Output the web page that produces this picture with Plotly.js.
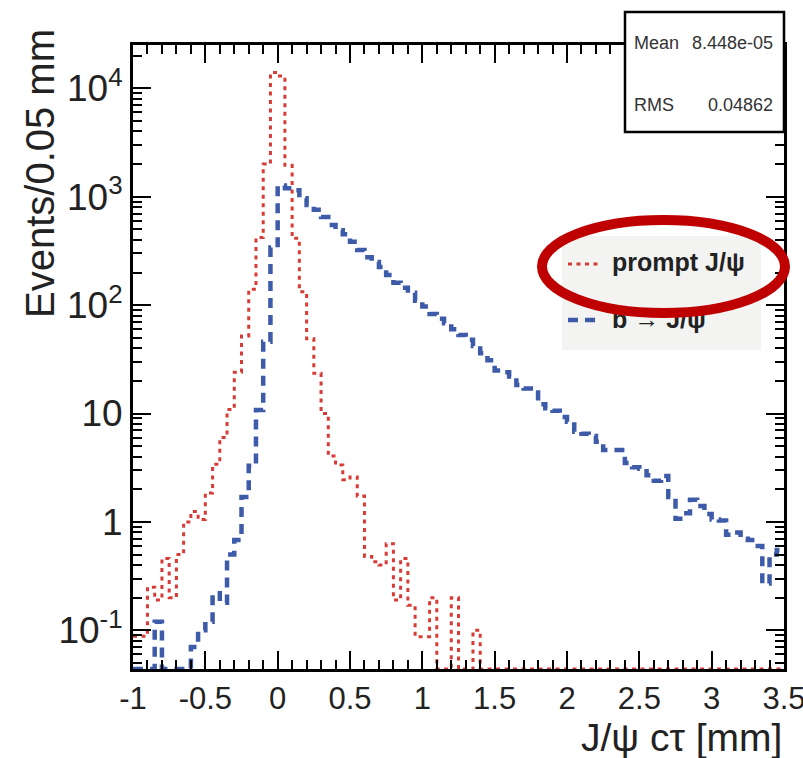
<!DOCTYPE html>
<html><head><meta charset="utf-8">
<script src="https://cdn.plot.ly/plotly-3.0.1.min.js"></script>
<style>html,body{margin:0;padding:0;background:#fff}#chart{width:803px;height:758px}</style>
</head><body><div id="chart"></div>
<script>
// ---- data ----
const binLow = [-1.00,-0.95,-0.90,-0.85,-0.80,-0.75,-0.70,-0.65,-0.60,-0.55,
  -0.50,-0.45,-0.40,-0.35,-0.30,-0.25,-0.20,-0.15,-0.10,-0.05,
  0.00,0.05,0.10,0.15,0.20,0.25,0.30,0.35,0.40,0.45,
  0.50,0.55,0.60,0.65,0.70,0.75,0.80,0.85,0.90,0.95,
  1.00,1.05,1.10,1.15,1.20,1.25,1.30,1.35,1.40,1.45,
  1.50,1.55,1.60,1.65,1.70,1.75,1.80,1.85,1.90,1.95,
  2.00,2.05,2.10,2.15,2.20,2.25,2.30,2.35,2.40,2.45,
  2.50,2.55,2.60,2.65,2.70,2.75,2.80,2.85,2.90,2.95,
  3.00,3.05,3.10,3.15,3.20,3.25,3.30,3.35,3.40,3.45];
const binWidth = 0.05;
const promptJpsi = [0.088,0.088,0.25,0.19,0.46,0.2,0.5,1.0,1.25,1.05,
  1.85,3.4,6.0,10.9,24,52,140,420,2000,14000,
  13000,1950,413,133,49,23.5,10,4.05,3.35,2.45,
  2.6,1.73,0.48,0.43,0.4,0.63,0.19,0.46,0.17,0.087,
  0.087,0.2,0,0,0.2,0,0,0.1,0,0,
  0,0,0,0,0,0,0,0,0,0,
  0,0,0,0,0,0,0,0,0,0,
  0,0,0,0,0,0,0,0,0,0,
  0,0,0,0,0,0,0,0,0,0];
const bToJpsi = [0,0,0,0.12,0,0,0,0,0.07,0.1,
  0.12,0.22,0.18,0.5,0.68,1.7,3.3,10.8,46,340,
  1270,1200,1150,970,840,760,650,550,490,450,
  385,322,276,250,225,190,161,145,130,110,
  97,83,75,68,60,53,48,42,36,31,
  25,24,22,18.3,17,15.6,12.2,11.2,10.6,9.3,
  8.4,6.8,6.5,6.2,5.5,4.6,4.6,4.6,3.5,3.2,
  3.1,2.7,2.4,2.65,1.7,1.07,1.2,1.6,1.4,1.18,
  1.05,1.03,0.76,0.8,0.7,0.68,0.6,0.27,0.5,0.55];
const seriesNames = ["prompt J/\u03c8", "b \u2192 J/\u03c8"];
const statsLabels = ["Mean", "RMS"];
const statsValues = ["8.448e-05", "0.04862"];
const xTickVals = [-1,-0.5,0,0.5,1,1.5,2,2.5,3,3.5];
const xTickText = ["-1","-0.5","0","0.5","1","1.5","2","2.5","3","3.5"];
const yTickVals = [0.1,1,10,100,1000,10000];
const yTickText = ["10<sup>-1</sup>","1","10","10<sup>2</sup>","10<sup>3</sup>","10<sup>4</sup>"];
const xTitle = "J/\u03c8 c\u03c4 [mm]";
const yTitle = "Events/0.05 mm";

// ---- layout geometry ----
const W = 803, H = 758, ML = 133, MR = 19, MT = 45, MB = 89;
const PW = W - ML - MR, PH = H - MT - MB;
const yMinLog = -1.357, yMaxLog = 4.40;
const yFloor = Math.pow(10, yMinLog);
const px = x => (x - ML) / PW;
const py = y => 1 - (y - MT) / PH;
const FONT = "Liberation Sans, Arial, Helvetica, sans-serif";

function steps(vals) {
  const x = binLow.concat([binLow[binLow.length - 1] + binWidth]);
  const y = vals.map(v => (v > 0 ? v : yFloor));
  y.push(y[y.length - 1]);
  return {x, y};
}
const sp = steps(promptJpsi), sb = steps(bToJpsi);

const minorY = [];
for (let e = -2; e <= 4; e++) for (let d = 2; d <= 9; d++) minorY.push(d * Math.pow(10, e));

const red = "#d63b36", blue = "#3e5ba9";
const traces = [
  {x: sp.x, y: sp.y, type: "scatter", mode: "lines", line: {shape: "hv", color: red, width: 3, dash: "4px,4.5px"}, name: seriesNames[0], showlegend: false},
  {x: sb.x, y: sb.y, type: "scatter", mode: "lines", line: {shape: "hv", color: blue, width: 4.5, dash: "10px,7px"}, name: seriesNames[1], showlegend: false},
  {x: [px(612), px(612)], y: [py(265), py(322)], xaxis: "x2", yaxis: "y2", type: "scatter", mode: "text",
   text: seriesNames.map(s => "<b>" + s + "</b>"), textposition: "middle right",
   textfont: {family: FONT, size: 25, color: "#222"}, showlegend: false, hoverinfo: "skip", cliponaxis: false}
];

const shapes = [
  {type: "rect", xref: "paper", yref: "paper", x0: px(562), x1: px(761), y0: py(350), y1: py(236), fillcolor: "#f3f3f2", line: {width: 0}, layer: "below"},
  {type: "line", xref: "paper", yref: "paper", x0: px(568), x1: px(601), y0: py(264), y1: py(264), line: {color: red, width: 3, dash: "4px,4.5px"}},
  {type: "line", xref: "paper", yref: "paper", x0: px(568), x1: px(598), y0: py(320), y1: py(320), line: {color: blue, width: 4.5, dash: "10px,7px"}},
  {type: "circle", xref: "paper", yref: "paper", x0: px(542), x1: px(785), y0: py(313), y1: py(220), line: {color: "#bf0000", width: 10}, layer: "above"},
  {type: "rect", xref: "paper", yref: "paper", x0: px(625), x1: px(784), y0: py(132), y1: py(12), fillcolor: "#ffffff", line: {color: "#000", width: 2.5}, layer: "above"}
];

const statFont = {family: FONT, size: 18, color: "#333"};
const annotations = [
  {xref: "paper", yref: "paper", x: px(632), y: py(43), xanchor: "left", yanchor: "middle", text: statsLabels[0], showarrow: false, font: statFont},
  {xref: "paper", yref: "paper", x: px(775), y: py(43), xanchor: "right", yanchor: "middle", text: statsValues[0], showarrow: false, font: statFont},
  {xref: "paper", yref: "paper", x: px(632), y: py(105), xanchor: "left", yanchor: "middle", text: statsLabels[1], showarrow: false, font: statFont},
  {xref: "paper", yref: "paper", x: px(775), y: py(105), xanchor: "right", yanchor: "middle", text: statsValues[1], showarrow: false, font: statFont},
  {xref: "paper", yref: "paper", x: px(40), y: py(174), xanchor: "center", yanchor: "middle", textangle: -90, text: yTitle, showarrow: false, font: {family: FONT, size: 40, color: "#222"}},
  {xref: "paper", yref: "paper", x: px(784), y: py(737), xanchor: "right", yanchor: "middle", text: xTitle, showarrow: false, font: {family: FONT, size: 39, color: "#222"}}
];

const axisCommon = {showline: true, linecolor: "#000", linewidth: 3, mirror: "allticks", ticks: "inside", ticklen: 18, tickwidth: 2, tickcolor: "#000",
  showgrid: false, zeroline: false};

const layout = {
  width: W, height: H,
  margin: {l: ML, r: MR, t: MT, b: MB, pad: 0},
  paper_bgcolor: "#fff", plot_bgcolor: "#fff",
  showlegend: false,
  xaxis: Object.assign({}, axisCommon, {range: [-1, 3.5], tickmode: "array", tickvals: xTickVals, ticktext: xTickText,
    ticklabeloverflow: "allow", tickfont: {family: FONT, size: 31, color: "#222"},
    minor: {dtick: 0.1, tick0: 0, ticks: "inside", ticklen: 9, tickwidth: 2, tickcolor: "#000", showgrid: false}}),
  yaxis: Object.assign({}, axisCommon, {type: "log", range: [yMinLog, yMaxLog], tickmode: "array", tickvals: yTickVals, ticktext: yTickText,
    tickfont: {family: FONT, size: 37, color: "#222"},
    minor: {tickmode: "array", tickvals: minorY, ticks: "inside", ticklen: 9, tickwidth: 2, tickcolor: "#000", showgrid: false}}),
  xaxis2: {overlaying: "x", anchor: "y2", range: [0, 1], visible: false, fixedrange: true},
  yaxis2: {overlaying: "y", anchor: "x2", range: [0, 1], visible: false, fixedrange: true},
  shapes: shapes,
  annotations: annotations
};

Plotly.newPlot("chart", traces, layout, {staticPlot: true, displayModeBar: false});
</script></body></html>
